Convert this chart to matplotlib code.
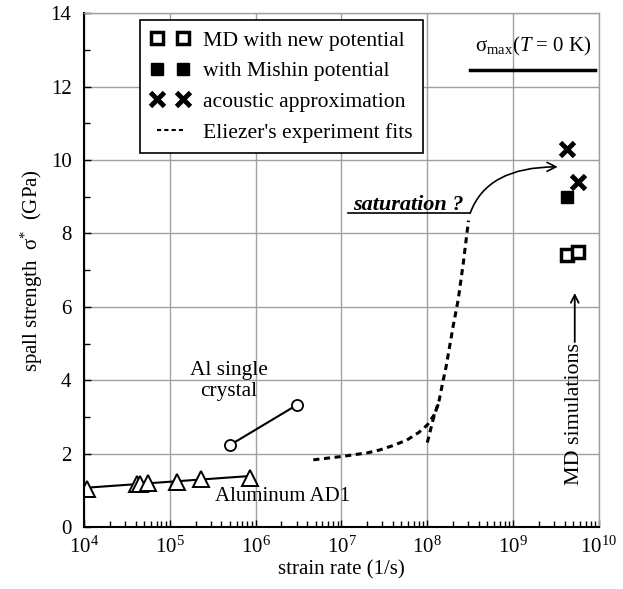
import matplotlib
matplotlib.use('Agg')
import matplotlib.pyplot as plt
from matplotlib.lines import Line2D
from matplotlib.ticker import MultipleLocator, LogLocator, NullFormatter

plt.rcParams['font.family'] = ['Liberation Serif', 'DejaVu Serif']
plt.rcParams['mathtext.fontset'] = 'custom'
plt.rcParams['mathtext.rm'] = 'Liberation Serif'
plt.rcParams['mathtext.it'] = 'Liberation Serif:italic'
plt.rcParams['mathtext.bf'] = 'Liberation Serif:bold'

# Aluminum AD1 (triangles) and its fit line
ad1_rate = [1.07e4, 4.1e4, 4.5e4, 5.6e4, 1.2e5, 2.3e5, 8.7e5]
ad1_sigma = [1.03, 1.17, 1.18, 1.19, 1.22, 1.31, 1.34]
ad1_fit_rate = [1.07e4, 8.7e5]
ad1_fit_sigma = [1.07, 1.39]

# Al single crystal (circles)
xtal_rate = [5.0e5, 3.0e6]
xtal_sigma = [2.23, 3.32]

# Eliezer's experiment fits (two dashed curves)
fit1_rate = [4.7e6, 1e7, 2e7, 2.8e7, 4e7, 5.8e7, 8e7, 1e8, 1.2e8, 1.4e8]
fit1_sigma = [1.83, 1.92, 2.02, 2.1, 2.22, 2.37, 2.58, 2.78, 3.05, 3.45]
fit2_rate = [1.0e8, 1.17e8, 1.38e8, 1.51e8, 1.66e8, 1.82e8, 2.0e8, 2.29e8, 2.63e8, 3.02e8]
fit2_sigma = [2.3, 2.93, 3.47, 3.93, 4.38, 4.92, 5.47, 6.19, 7.2, 8.35]

# MD simulations
md_new_rate = [4.2e9, 5.7e9]
md_new_sigma = [7.4, 7.5]
mishin_rate = [4.3e9]
mishin_sigma = [9.0]
acoustic_rate = [4.3e9, 5.7e9]
acoustic_sigma = [10.3, 9.4]

x_ticks = [1e4, 1e5, 1e6, 1e7, 1e8, 1e9, 1e10]

fig = plt.figure(figsize=(6.23, 5.89), dpi=100)
ax = fig.add_axes([0.1348, 0.1053, 0.8266, 0.8722])

ax.plot(ad1_fit_rate, ad1_fit_sigma, color='k', lw=1.5)
ax.plot(ad1_rate, ad1_sigma, ls='none', marker='^', ms=11, mfc='white', mec='k', mew=1.4)
ax.plot(xtal_rate, xtal_sigma, color='k', lw=1.5, marker='o', ms=8, mfc='white', mec='k', mew=1.3)

ax.plot(fit1_rate, fit1_sigma, color='k', lw=2.2, ls=(0, (2, 1.5)))
ax.plot(fit2_rate, fit2_sigma, color='k', lw=2.2, ls=(0, (2, 1.5)))

ax.plot(md_new_rate, md_new_sigma, ls='none', marker='s', ms=8, mfc='white', mec='k', mew=2.5)
ax.plot(mishin_rate, mishin_sigma, ls='none', marker='s', ms=8, mfc='k', mec='k')
ax.plot(acoustic_rate, acoustic_sigma, ls='none', marker='x', ms=10, mec='k', mew=3.5)

ax.set_xscale('log')
ax.set_xlim(1e4, 1e10)
ax.set_ylim(0, 14)
ax.set_xticks(x_ticks)
ax.yaxis.set_major_locator(MultipleLocator(2))
ax.yaxis.set_minor_locator(MultipleLocator(1))
ax.xaxis.set_minor_locator(LogLocator(base=10, subs=range(2, 10), numticks=100))
ax.xaxis.set_minor_formatter(NullFormatter())
ax.grid(True, which='major', color='#a0a0a0', lw=1)
ax.set_axisbelow(True)
ax.tick_params(which='both', direction='in', top=False, right=False, labelsize=15)
ax.tick_params(which='major', length=5, width=1)
ax.tick_params(which='minor', length=4, width=1)
ax.tick_params(axis='y', pad=9)
ax.tick_params(axis='x', pad=7)
for s in ['left', 'bottom']:
    ax.spines[s].set_linewidth(1.5)
for s in ['top', 'right']:
    ax.spines[s].set_color('#a0a0a0')
    ax.spines[s].set_linewidth(1)

ax.set_xlabel('strain rate (1/s)', fontsize=15, labelpad=2)
ax.set_ylabel('spall strength  σ$^{*}$  (GPa)', fontsize=15, labelpad=4)

handles = [
    Line2D([], [], ls='none', marker='s', ms=8, mfc='white', mec='k', mew=2.5),
    Line2D([], [], ls='none', marker='s', ms=8, mfc='k', mec='k'),
    Line2D([], [], ls='none', marker='x', ms=10, mec='k', mew=3.5),
    Line2D([], [], color='k', lw=1.5, ls=(0, (2, 1.5))),
]
labels = ['MD with new potential', 'with Mishin potential',
          'acoustic approximation', "Eliezer's experiment fits"]
leg = ax.legend(handles, labels, loc='upper left', bbox_to_anchor=(0.109, 0.987),
                numpoints=2, fontsize=15.6, handlelength=1.8, handletextpad=0.6,
                labelspacing=0.48, borderpad=0.5, borderaxespad=0,
                fancybox=False, framealpha=1, edgecolor='k')
leg.get_frame().set_linewidth(1.2)

ax.text(0.872, 0.935, 'σ$_{\\rm max}$($T$ = 0 K)', transform=ax.transAxes,
        ha='center', va='center', fontsize=15)
ax.plot([0.75, 0.992], [0.8896, 0.8896], transform=ax.transAxes, color='k', lw=2.5)

ax.text(0.738, 0.617, 'saturation ?', transform=ax.transAxes, ha='right',
        va='baseline', fontsize=16, fontweight='bold', fontstyle='italic')
ax.plot([0.513, 0.75], [0.611, 0.611], transform=ax.transAxes, color='k', lw=1.2)
ax.annotate('', xy=(0.920, 0.701), xytext=(0.75, 0.611),
            xycoords='axes fraction', textcoords='axes fraction',
            arrowprops=dict(arrowstyle='->', connectionstyle='angle3,angleA=70,angleB=0',
                            lw=1.2, color='k', shrinkA=0, shrinkB=0, mutation_scale=16))

ax.text(0.2816, 0.2844, 'Al single\ncrystal', transform=ax.transAxes, ha='center',
        va='center', fontsize=15.4, linespacing=1.1)
ax.text(0.254, 0.0584, 'Aluminum AD1', transform=ax.transAxes, ha='left',
        va='center', fontsize=15)

ax.text(0.953, 0.219, 'MD simulations', transform=ax.transAxes, ha='center',
        va='center', rotation=90, fontsize=15.8)
ax.annotate('', xy=(0.953, 0.4555), xytext=(0.953, 0.360),
            xycoords='axes fraction', textcoords='axes fraction',
            arrowprops=dict(arrowstyle='->', lw=1.3, color='k', shrinkA=0, shrinkB=0,
                            mutation_scale=14))

fig.savefig('out.png', dpi=100)
